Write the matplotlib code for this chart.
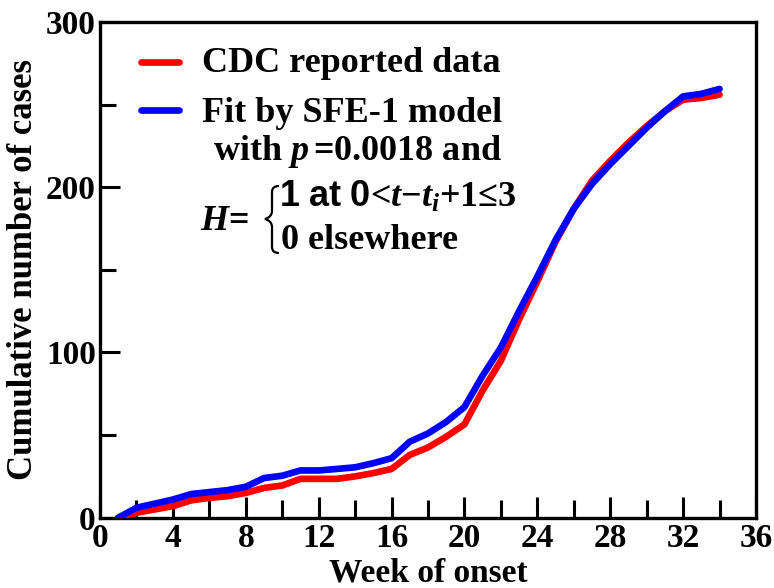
import matplotlib
matplotlib.use("Agg")
import matplotlib.pyplot as plt
from matplotlib.path import Path
from matplotlib.patches import PathPatch
from matplotlib.ticker import MultipleLocator

plt.rcParams["font.family"] = ["Liberation Serif", "DejaVu Serif"]
plt.rcParams["font.weight"] = "bold"
plt.rcParams["mathtext.fontset"] = "custom"
plt.rcParams["mathtext.rm"] = "Liberation Serif:bold"
plt.rcParams["mathtext.it"] = "Liberation Serif:italic:bold"
plt.rcParams["mathtext.bf"] = "Liberation Serif:bold"
plt.rcParams["mathtext.sf"] = "Liberation Sans:bold"

# weeks of onset and cumulative cases
weeks = list(range(1, 35))
cdc_cases = [0, 3, 5, 7, 10.5, 12, 13, 15, 18, 19.5, 23.5, 23.5, 23.5, 25, 27,
             29.5, 38, 42.5, 49, 56.5, 77, 95, 120, 143, 167, 187, 204, 216,
             227, 237, 246, 253, 254, 256]
sfe_fit = [0, 6, 8.5, 11, 14.3, 15.5, 16.7, 18.7, 24, 25.4, 28.6, 28.6, 29.5,
           30.5, 33, 36, 46, 51, 58, 67, 86, 103, 125, 146, 168, 187, 202, 214,
           225, 236, 246, 255, 256.5, 259.5]

fig = plt.figure(figsize=(7.74, 5.88), dpi=100)
ax = fig.add_axes([100 / 774, 1 - 517.7 / 588, 656 / 774, 495.7 / 588])

ax.plot(weeks, cdc_cases, color="#ff0000", lw=4.8, solid_capstyle="round",
        solid_joinstyle="round", zorder=3)
ax.plot(weeks, sfe_fit, color="#0000ff", lw=4.8, solid_capstyle="round",
        solid_joinstyle="round", zorder=4)

ax.set_xlim(0, 36)
ax.set_ylim(0, 300)
ax.xaxis.set_major_locator(MultipleLocator(4))
ax.xaxis.set_minor_locator(MultipleLocator(2))
ax.yaxis.set_major_locator(MultipleLocator(100))
ax.yaxis.set_minor_locator(MultipleLocator(50))
ax.tick_params(which="both", direction="in", width=2.2, top=False, right=False,
               labelsize=24)
ax.tick_params(axis="x", which="major", length=15, pad=4)
ax.tick_params(axis="x", which="minor", length=13)
ax.tick_params(axis="y", which="major", length=14.5, pad=3)
ax.tick_params(axis="y", which="minor", length=11.5)
for s in ax.spines.values():
    s.set_linewidth(2.4)

fig.text(0.5 * (100 + 756) / 774, 0.0, "Week of onset", fontsize=24,
         fontweight="bold", ha="center", va="bottom")
ax.set_ylabel("Cumulative number of cases", fontsize=25, fontweight="bold",
              labelpad=4)


# legend, drawn by hand (axes fraction)
def px(x, y):
    return (x - 100) / 656, (517.7 - y) / 495.7


for yy, col in [(62, "#ff0000"), (110, "#0000ff")]:
    (x0, y0), (x1, _) = px(141, yy), px(179, yy)
    ax.plot([x0, x1], [y0, y0], color=col, lw=4.8, solid_capstyle="round",
            transform=ax.transAxes, clip_on=False)

fs = 26
ax.text(*px(202, 64), "CDC reported data", fontsize=fs, va="center",
        transform=ax.transAxes)
ax.text(*px(202, 114), "Fit by SFE-1 model", fontsize=fs, va="center",
        transform=ax.transAxes)
ax.text(*px(213, 152), r"with $p\,$=0.0018 and", fontsize=fs, va="center",
        transform=ax.transAxes)
ax.text(*px(200, 221), r"$H$=", fontsize=fs, va="center",
        transform=ax.transAxes)
ax.text(*px(279, 197), r"$\mathsf{1\ at\ 0}$<$t$−$t_i$+1≤3", fontsize=fs,
        va="center", transform=ax.transAxes)
ax.text(*px(281, 241), "0 elsewhere", fontsize=fs, va="center",
        transform=ax.transAxes)

# curly brace
xr, xm, xt = 279, 272, 265
yt, yc, yb = 186, 219, 253
pts = [(xr, yt), (xm, yt), (xm, yt + 6), (xm, yc - 8),
       (xm, yc - 2), (xt, yc),
       (xm, yc + 2), (xm, yc + 8), (xm, yb - 6),
       (xm, yb), (xr, yb)]
codes = [Path.MOVETO, Path.CURVE3, Path.CURVE3, Path.LINETO,
         Path.CURVE3, Path.CURVE3,
         Path.CURVE3, Path.CURVE3, Path.LINETO,
         Path.CURVE3, Path.CURVE3]
brace = Path([px(*p) for p in pts], codes)
ax.add_patch(PathPatch(brace, fill=False, lw=1.6, color="black",
                       transform=ax.transAxes, clip_on=False))

fig.savefig("out.png", dpi=100)
